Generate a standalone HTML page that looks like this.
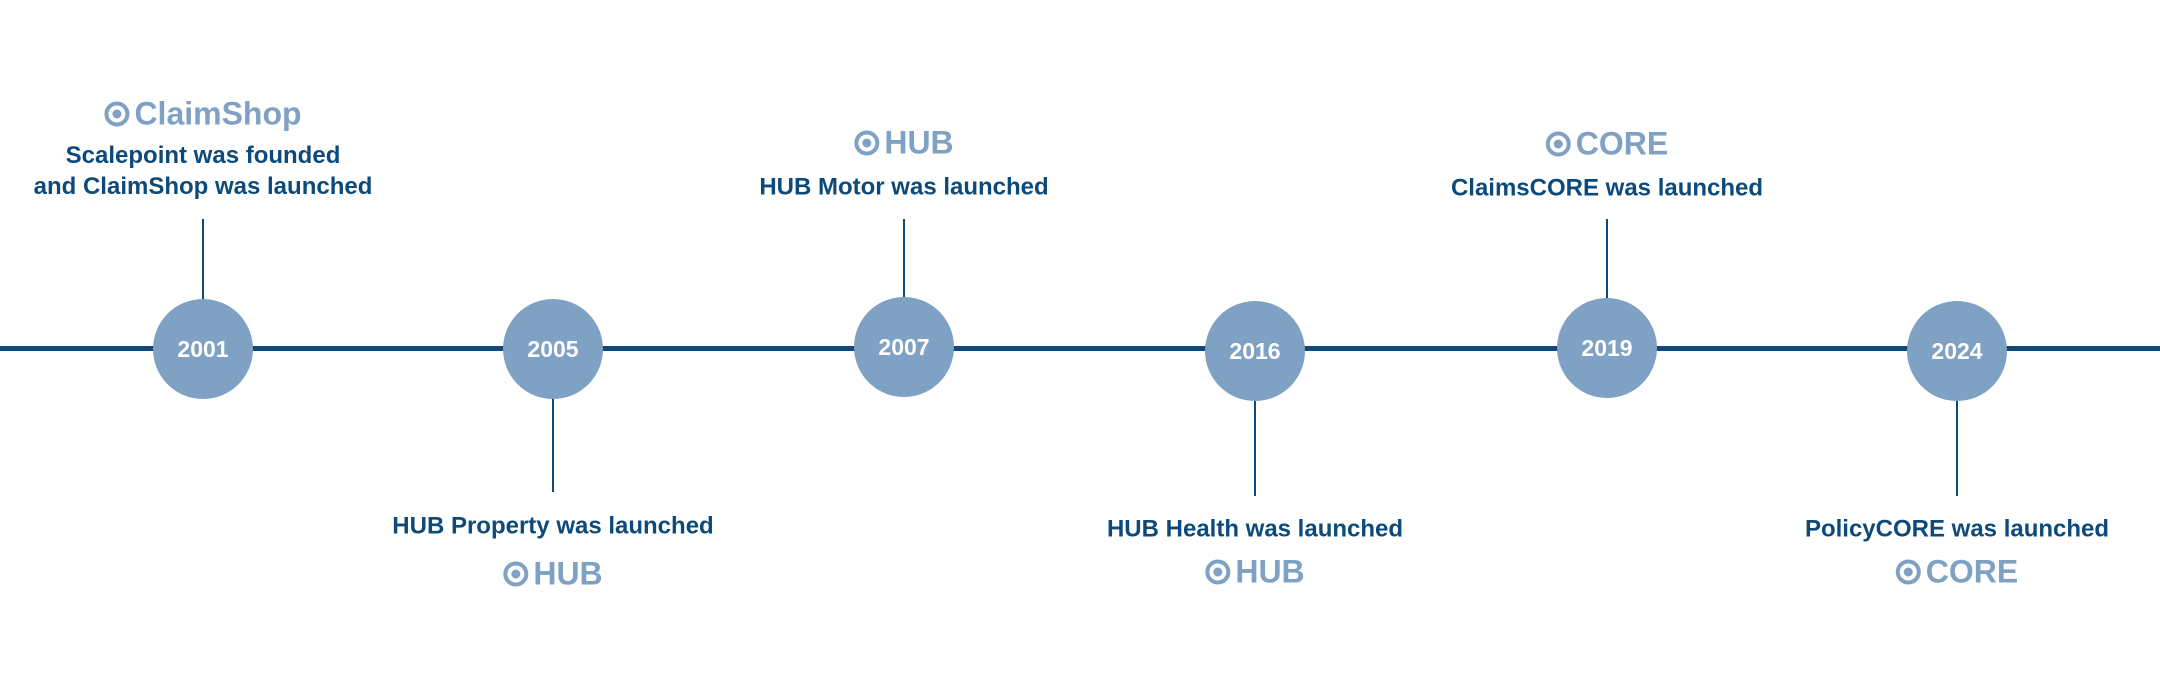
<!DOCTYPE html>
<html><head><meta charset="utf-8"><style>
html,body{margin:0;padding:0;background:#fff;}
body{width:2160px;height:700px;position:relative;overflow:hidden;font-family:"Liberation Sans",sans-serif;font-weight:bold;}
.line{position:absolute;left:0;width:2160px;top:346px;height:5px;background:#0d4a7a;}
.c{position:absolute;width:100px;height:100px;border-radius:50%;background:#7ea1c4;color:#fff;font-size:23px;display:flex;align-items:center;justify-content:center;transform:translate(-50%,-50%);}
.v{position:absolute;width:2px;background:#0d4a7a;transform:translateX(-1px);}
.t{position:absolute;transform:translate(-50%,-50%);white-space:nowrap;color:#0d4a7a;font-size:24px;text-align:center;line-height:31px;}
.lg{position:absolute;transform:translate(-50%,-50%);white-space:nowrap;color:#7ea1c4;font-size:32px;display:flex;align-items:center;}
.ic{width:17px;height:17px;border:4px solid #7ea1c4;border-radius:50%;position:relative;margin-right:5px;}
.ic::after{content:"";position:absolute;left:4px;top:4px;width:9px;height:9px;border-radius:50%;background:#7ea1c4;}
</style></head><body>
<div class="line"></div>

<div class="v" style="left:203px;top:219px;height:81px"></div>
<div class="v" style="left:553px;top:398px;height:94px"></div>
<div class="v" style="left:904px;top:219px;height:80px"></div>
<div class="v" style="left:1255px;top:400px;height:96px"></div>
<div class="v" style="left:1607px;top:219px;height:80px"></div>
<div class="v" style="left:1957px;top:400px;height:96px"></div>

<div class="c" style="left:203px;top:349px">2001</div>
<div class="c" style="left:553px;top:349px">2005</div>
<div class="c" style="left:904px;top:347px">2007</div>
<div class="c" style="left:1255px;top:351px">2016</div>
<div class="c" style="left:1607px;top:348px">2019</div>
<div class="c" style="left:1957px;top:351px">2024</div>

<div class="lg" style="left:203px;top:114px"><span class="ic"></span>ClaimShop</div>
<div class="t" style="left:203px;top:171px">Scalepoint was founded<br>and ClaimShop was launched</div>

<div class="t" style="left:553px;top:526px">HUB Property was launched</div>
<div class="lg" style="left:553px;top:574px"><span class="ic"></span>HUB</div>

<div class="lg" style="left:904px;top:143px"><span class="ic"></span>HUB</div>
<div class="t" style="left:904px;top:187px">HUB Motor was launched</div>

<div class="t" style="left:1255px;top:529px">HUB Health was launched</div>
<div class="lg" style="left:1255px;top:572px"><span class="ic"></span>HUB</div>

<div class="lg" style="left:1607px;top:144px"><span class="ic"></span>CORE</div>
<div class="t" style="left:1607px;top:188px">ClaimsCORE was launched</div>

<div class="t" style="left:1957px;top:529px">PolicyCORE was launched</div>
<div class="lg" style="left:1957px;top:572px"><span class="ic"></span>CORE</div>
</body></html>
